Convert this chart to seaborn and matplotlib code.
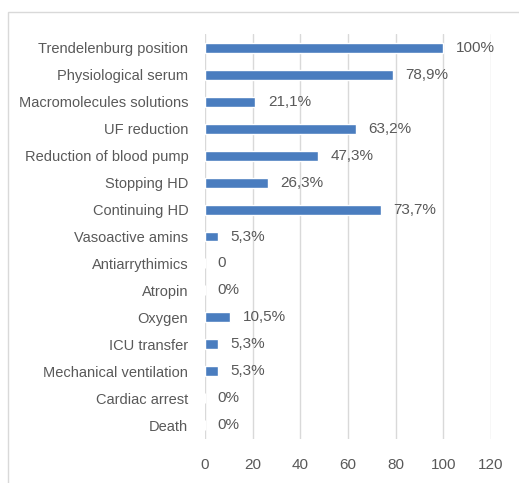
import matplotlib
matplotlib.use("Agg")
import matplotlib.pyplot as plt
import seaborn as sns
import pandas as pd
from matplotlib.patches import Rectangle

categories = ["Trendelenburg position", "Physiological serum", "Macromolecules solutions",
              "UF reduction", "Reduction of blood pump", "Stopping HD", "Continuing HD",
              "Vasoactive amins", "Antiarrythimics", "Atropin", "Oxygen", "ICU transfer",
              "Mechanical ventilation", "Cardiac arrest", "Death"]
values = [100, 78.9, 21.1, 63.2, 47.3, 26.3, 73.7, 5.3, 0, 0, 10.5, 5.3, 5.3, 0, 0]
labels = ["100%", "78,9%", "21,1%", "63,2%", "47,3%", "26,3%", "73,7%", "5,3%", "0",
          "0%", "10,5%", "5,3%", "5,3%", "0%", "0%"]
xticks = [0, 20, 40, 60, 80, 100, 120]

sns.set_theme(style="white")
plt.rcParams['font.family'] = ['Liberation Sans Narrow', 'Liberation Sans', 'DejaVu Sans']

df = pd.DataFrame({"cat": categories, "val": values})
fig = plt.figure(figsize=(5.19, 4.83), dpi=100)
ax = fig.add_axes([0.395, 0.0921, 0.551, 0.8365])

txt = "#595959"
sns.barplot(data=df, y="cat", x="val", orient="h", color="#4a7dbf", saturation=1,
            width=0.37, ax=ax)
ax.set_xlim(0, 120)
ax.set_ylim(len(categories) - 0.5, -0.5)
ax.set_xticks(xticks)
ax.set_xticklabels([str(t) for t in xticks], color=txt, fontsize=11)
ax.tick_params(axis='y', labelsize=10.5, labelcolor=txt, length=0, pad=12)
ax.tick_params(axis='x', length=0, pad=14)
ax.set_xlabel("")
ax.set_ylabel("")
ax.xaxis.grid(True, color="#d9d9d9", linewidth=1)
ax.set_axisbelow(True)
for s in ax.spines.values():
    s.set_visible(False)

for i, (v, lab) in enumerate(zip(values, labels)):
    ax.annotate(lab, xy=(v, i), xytext=(9, 0), textcoords="offset points",
                va="center", ha="left", fontsize=11, color=txt)

fig.patches.append(Rectangle((8 / 519, -0.1), 1.2, 1 - 12 / 483 + 0.1,
                             transform=fig.transFigure, fill=False,
                             edgecolor="#d9d9d9", linewidth=1))

fig.savefig("out.png", dpi=100)
